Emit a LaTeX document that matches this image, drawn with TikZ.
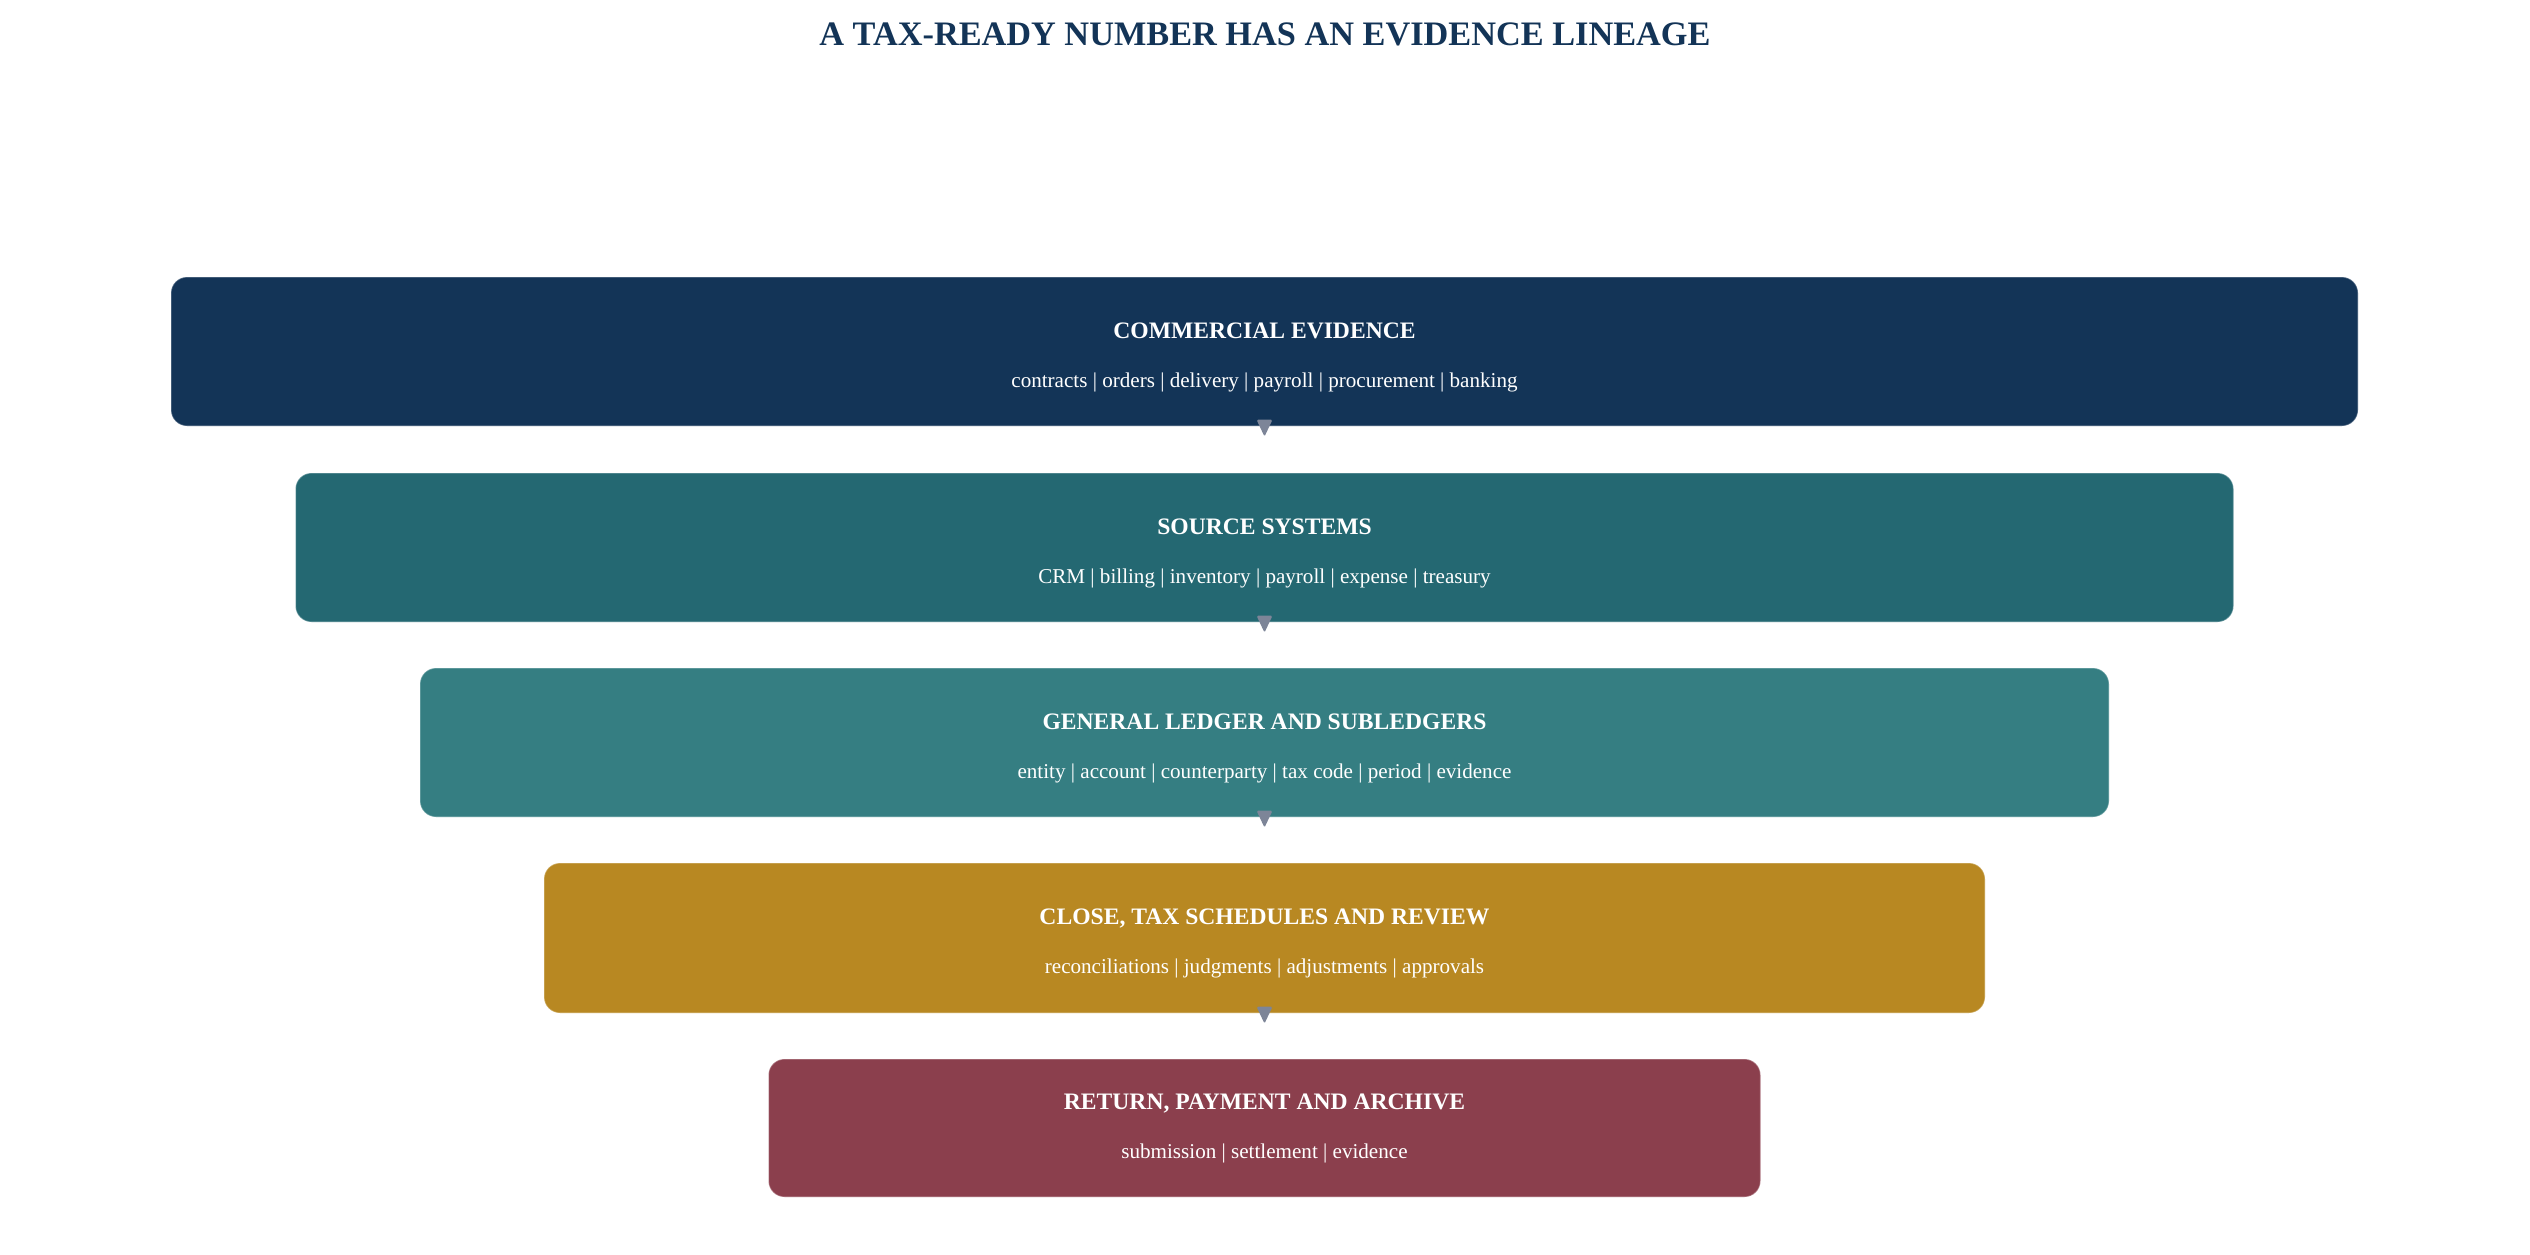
\documentclass[tikz,border=0pt]{standalone}
\usepackage{fontspec}
\setmainfont{Liberation Serif}
\usetikzlibrary{calc}
\definecolor{navy}{HTML}{133457}
\definecolor{cone}{HTML}{133457}
\definecolor{ctwo}{HTML}{246872}
\definecolor{cthree}{HTML}{357E82}
\definecolor{cfour}{HTML}{B88822}
\definecolor{cfive}{HTML}{8B3F4D}
\definecolor{arrowc}{HTML}{7D8598}
\begin{document}
\begin{tikzpicture}[x=1pt,y=1pt,
  box/.style={rounded corners=16pt, inner sep=0pt, draw=white, draw opacity=0.3, line width=1.2pt},
  boxtitle/.style={text=white, font=\fontsize{23.6}{28}\selectfont\bfseries, anchor=base, inner sep=0pt},
  boxsub/.style={text=white, font=\fontsize{21.1}{25}\selectfont, anchor=base, inner sep=0pt},
  tipshape/.style={fill=arrowc, rounded corners=1.5pt}]
\path[use as bounding box] (0,0) rectangle (2530,-1254);
\node[anchor=base, text=navy, font=\fontsize{34.3}{40}\selectfont\bfseries, inner sep=0pt] (title) at (1265,-45) {A TAX-READY NUMBER HAS AN EVIDENCE LINEAGE};

\node[box, fill=cone, minimum width=2187pt, minimum height=149pt] (b1) at (1264.5,-351.5) {};
\node[box, fill=ctwo, minimum width=1938pt, minimum height=149pt] (b2) at (1264.5,-547.5) {};
\node[box, fill=cthree, minimum width=1689pt, minimum height=149pt] (b3) at (1264.5,-742.5) {};
\node[box, fill=cfour, minimum width=1441pt, minimum height=150pt] (b4) at (1264.5,-938) {};
\node[box, fill=cfive, minimum width=992pt, minimum height=138pt] (b5) at (1264.5,-1128) {};

\node[boxtitle] (t1) at ($(b1.north)+(0,-62)$) {COMMERCIAL EVIDENCE};
\node[boxsub] (s1) at ($(b1.north)+(0,-111)$) {contracts | orders | delivery | payroll | procurement | banking};
\node[boxtitle] (t2) at ($(b2.north)+(0,-62)$) {SOURCE SYSTEMS};
\node[boxsub] (s2) at ($(b2.north)+(0,-111)$) {CRM | billing | inventory | payroll | expense | treasury};
\node[boxtitle] (t3) at ($(b3.north)+(0,-62)$) {GENERAL LEDGER AND SUBLEDGERS};
\node[boxsub] (s3) at ($(b3.north)+(0,-111)$) {entity | account | counterparty | tax code | period | evidence};
\node[boxtitle] (t4) at ($(b4.north)+(0,-62)$) {CLOSE, TAX SCHEDULES AND REVIEW};
\node[boxsub] (s4) at ($(b4.north)+(0,-111)$) {reconciliations | judgments | adjustments | approvals};
\node[boxtitle] (t5) at ($(b5.north)+(0,-51)$) {RETURN, PAYMENT AND ARCHIVE};
\node[boxsub] (s5) at ($(b5.north)+(0,-100)$) {submission | settlement | evidence};

\foreach \a in {b1,b2,b3,b4}{
  \fill[tipshape] ($(\a.south)+(-8,7)$) -- ($(\a.south)+(8,7)$) -- ($(\a.south)+(0,-10)$) -- cycle;
}
\end{tikzpicture}
\end{document}
